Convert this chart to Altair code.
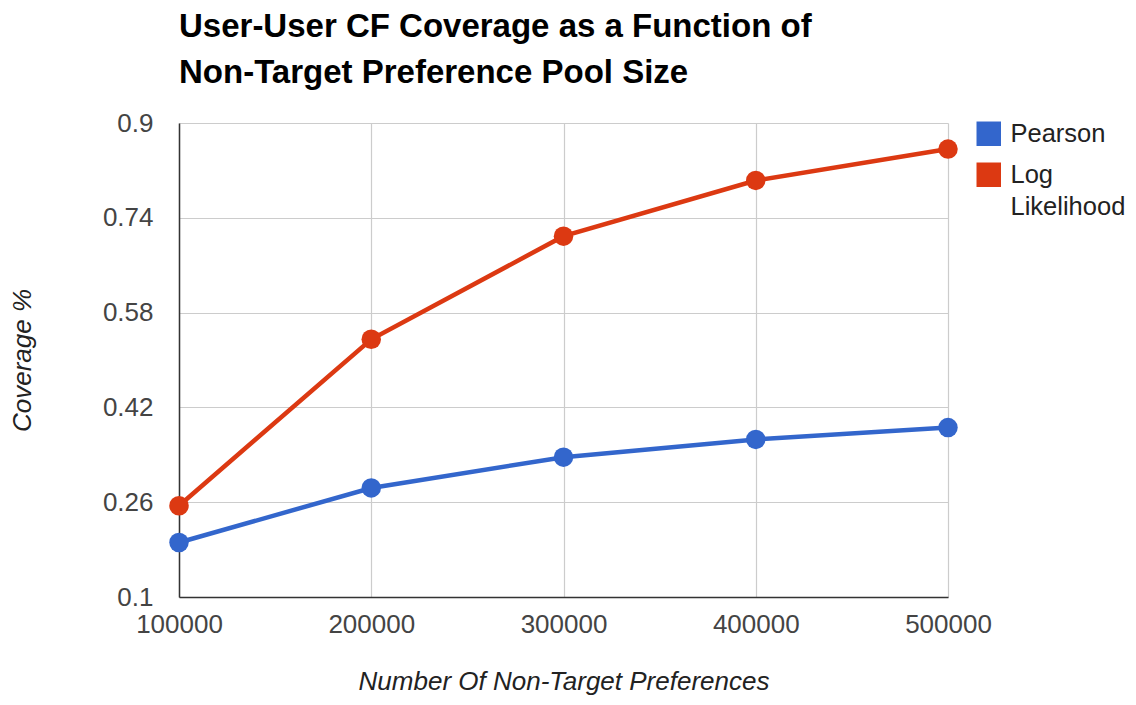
import altair as alt
import pandas as pd

x_values = [100000, 200000, 300000, 400000, 500000]
pearson = [0.192, 0.284, 0.336, 0.366, 0.386]
log_likelihood = [0.254, 0.535, 0.709, 0.803, 0.856]
series_names = ["Pearson", "Log Likelihood"]
series_colors = ["#3366CC", "#DC3912"]
y_ticks = [0.1, 0.26, 0.42, 0.58, 0.74, 0.9]

rows = []
for name, vals in zip(series_names, [pearson, log_likelihood]):
    for xv, yv in zip(x_values, vals):
        rows.append({"x": xv, "y": yv, "series": name})
df = pd.DataFrame(rows)

FONT = "Liberation Sans"
FS = 26

x_enc = alt.X(
    "x:Q",
    scale=alt.Scale(domain=[100000, 500000], nice=False, zero=False),
    axis=alt.Axis(
        values=x_values, format="d", title="Number Of Non-Target Preferences",
        grid=True, gridColor="#cccccc", gridWidth=1.2,
        domainColor="#333333", domainWidth=1.5, ticks=False, labelFlush=False,
        labelFont=FONT, labelFontSize=FS, labelColor="#444444", labelPadding=14,
        titleFont=FONT, titleFontSize=FS, titleFontStyle="italic", titleFontWeight="normal",
        titleColor="#222222", titleY=92, titleBaseline="alphabetic",
    ),
)
y_enc = alt.Y(
    "y:Q",
    scale=alt.Scale(domain=[0.1, 0.9], nice=False, zero=False),
    axis=alt.Axis(
        values=y_ticks, format=".2~f", title="Coverage %",
        grid=True, gridColor="#cccccc", gridWidth=1.2,
        domainColor="#333333", domainWidth=1.5, ticks=False, labelFlush=False,
        labelFont=FONT, labelFontSize=FS, labelColor="#444444", labelPadding=26,
        labelBaseline="middle",
        titleFont=FONT, titleFontSize=FS, titleFontStyle="italic", titleFontWeight="normal",
        titleColor="#222222", titleX=-157, titleY=237, titleBaseline="middle",
        titleAlign="center", titleAngle=-90,
    ),
)

legend = alt.Legend(
    title=None, orient="none", legendX=797, legendY=-2,
    symbolType="square", symbolSize=600, symbolStrokeWidth=0,
    labelFont=FONT, labelFontSize=25.5, labelColor="#222222",
    labelExpr="datum.label == 'Log Likelihood' ? ['Log', 'Likelihood'] : datum.label",
    labelLimit=300, rowPadding=14, padding=0, labelOffset=9,
)
color_enc = alt.Color(
    "series:N", sort=series_names,
    scale=alt.Scale(domain=series_names, range=series_colors),
    legend=legend,
)

lines = alt.Chart(df).mark_line(strokeWidth=4.5).encode(
    x=x_enc, y=y_enc, color=color_enc, detail="series:N",
)
points = alt.Chart(df).mark_point(filled=True, size=380, opacity=1).encode(
    x=x_enc, y=y_enc, color=color_enc,
)

chart = alt.layer(lines, points).properties(
    width=769, height=474,
    title=alt.TitleParams(
        text=["User-User CF Coverage as a Function of", "Non-Target Preference Pool Size"],
        anchor="start", frame="group", font=FONT, fontSize=33, fontWeight="bold",
        color="#000000", lineHeight=46, offset=20,
    ),
    autosize=alt.AutoSizeParams(type="none"),
    padding={"left": 171, "top": 115, "right": 180, "bottom": 100},
).configure(style={"guide-label": {"lineHeight": 32}}).configure_view(stroke=None)

chart.save("out.html", embed_options={"renderer": "svg", "actions": False})
